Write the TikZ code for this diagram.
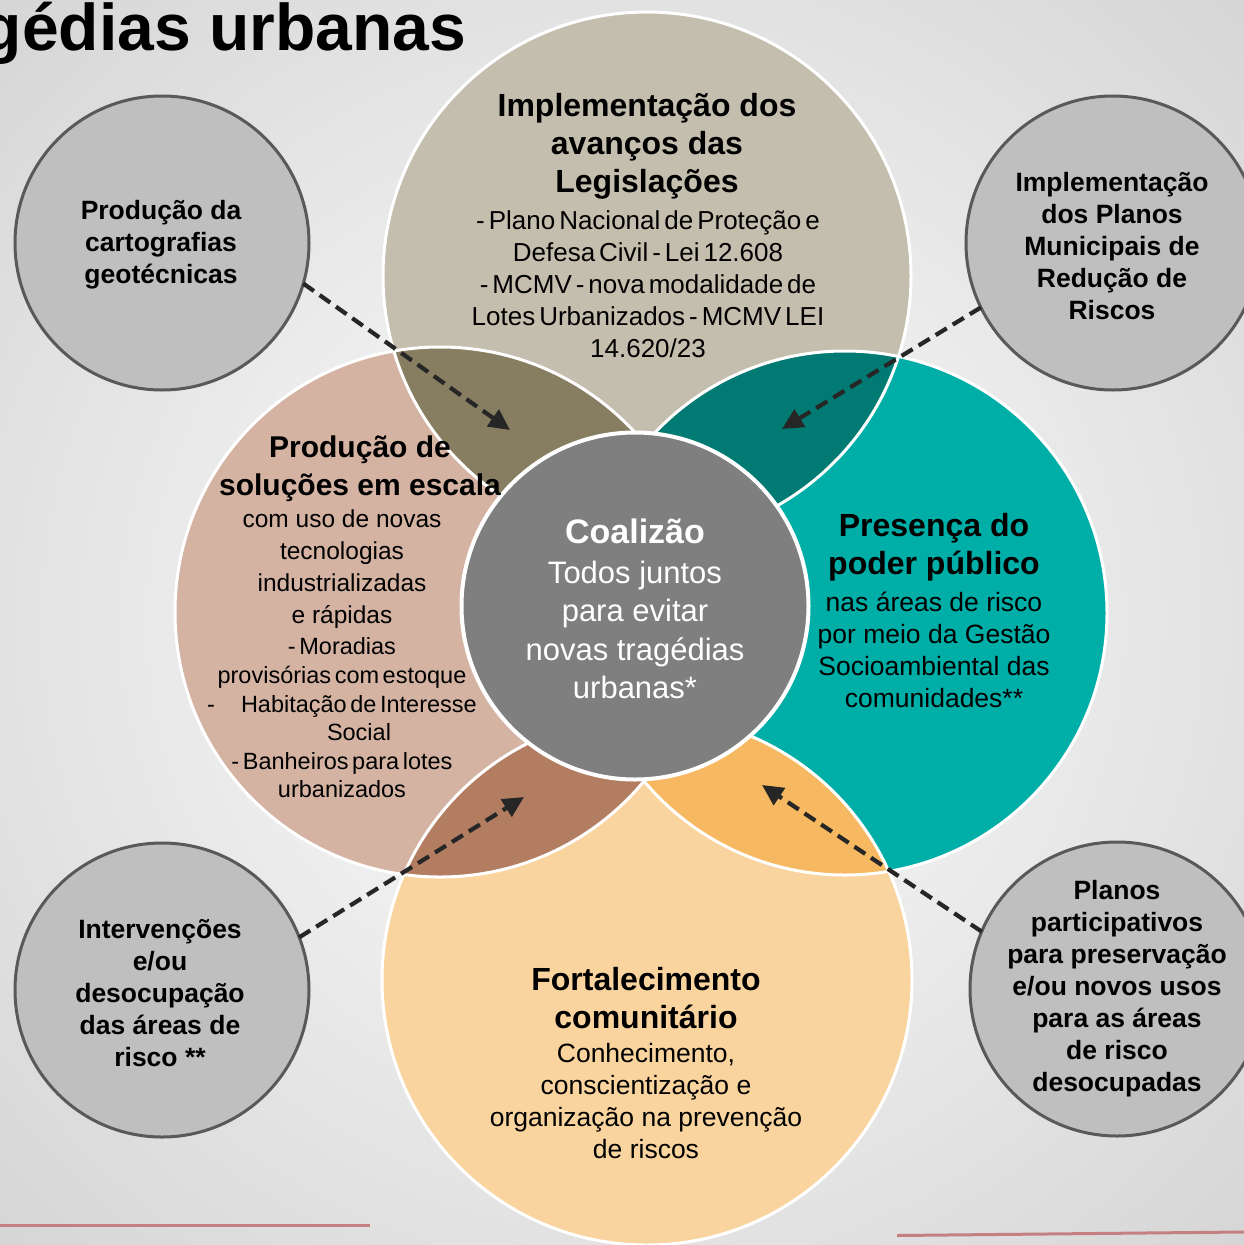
\documentclass[tikz,border=0pt]{standalone}
\usepackage{fontspec}
\setmainfont{Liberation Sans}
\newfontfamily\condf{Liberation Sans}[WordSpace=0.55]
\usetikzlibrary{arrows.meta}
\definecolor{bgC}{RGB}{214,214,214}
\definecolor{cTop}{RGB}{196,190,174}
\definecolor{cLeft}{RGB}{212,179,163}
\definecolor{cRight}{RGB}{0,174,168}
\definecolor{cBot}{RGB}{250,212,158}
\definecolor{cTL}{RGB}{135,125,97}
\definecolor{cTR}{RGB}{0,122,115}
\definecolor{cBL}{RGB}{179,125,97}
\definecolor{cBR}{RGB}{246,185,97}
\definecolor{cCenter}{RGB}{127,127,127}
\definecolor{satFill}{RGB}{191,191,191}
\definecolor{satLine}{RGB}{89,89,89}
\definecolor{arrowC}{RGB}{38,38,38}
\definecolor{redL}{RGB}{196,128,128}
\begin{document}
\begin{tikzpicture}[x=1pt,y=-1pt,
  every node/.style={inner sep=0pt, outer sep=0pt},
  bigttl/.style={align=center, font=\bfseries\fontsize{32}{38}\selectfont},
  bodytxt/.style={align=center, font=\fontsize{26.5}{32}\selectfont},
  smallttl/.style={align=center, font=\bfseries\fontsize{26.5}{32}\selectfont},
  satellite/.style={circle, fill=satFill, draw=satLine, line width=3pt, minimum size=294pt},
  link/.style={draw=arrowC, line width=4.2pt, dash pattern=on 13pt off 7pt, -{Triangle[length=21pt,width=20pt]}},
  ringline/.style={draw=white, line width=3pt},
  redline/.style={draw=redL, line width=3pt},
]
\useasboundingbox (0,0) rectangle (1244,1245);
\shade[inner color=white, outer color=bgC] (-250,-250) rectangle (1494,1495);

% big circles
\fill[cTop] (647,276) circle[radius=264pt];
\fill[cLeft] (440,612) circle[radius=265pt];
\fill[cRight] (845,613) circle[radius=262pt];
\fill[cBot] (647,980) circle[radius=265pt];
\begin{scope}
  \clip (647,276) circle[radius=264pt];
  \fill[cTL] (440,612) circle[radius=265pt];
  \fill[cTR] (845,613) circle[radius=262pt];
\end{scope}
\begin{scope}
  \clip (647,980) circle[radius=265pt];
  \fill[cBL] (440,612) circle[radius=265pt];
  \fill[cBR] (845,613) circle[radius=262pt];
\end{scope}
\draw[ringline] (647,276) circle[radius=264pt];
\draw[ringline] (440,612) circle[radius=265pt];
\draw[ringline] (845,613) circle[radius=262pt];
\draw[ringline] (647,980) circle[radius=265pt];

% centre
\node[circle, fill=cCenter, draw=white, line width=4pt, minimum size=347pt] (coal) at (635,606) {};

% satellites
\node[satellite] (sTL) at (162,243) {};
\node[satellite] (sTR) at (1113,243) {};
\node[satellite] (sBL) at (162,990) {};
\node[satellite] (sBR) at (1117,989) {};

% title and decorative lines
\node[anchor=base east, font=\bfseries\fontsize{66}{72}\selectfont] (title) at (466,50) {gédias urbanas};
\draw[redline] (0,1225.5) -- (370,1225.5);
\draw[redline] (897,1235.5) -- (1244,1232);

% texts
\node[bigttl] (topT) at (647,146) {Implementação dos\\avanços das\\Legislações};
\node[align=center, font=\condf\fontsize{26}{32}\selectfont] (topB) at (648,284) {- Plano Nacional de Proteção e\\Defesa Civil - Lei 12.608\\- MCMV - nova modalidade de\\Lotes Urbanizados - MCMV LEI\\14.620/23};

\node[align=center, font=\bfseries\fontsize{30}{38}\selectfont] (leftT) at (360,469) {Produção de\\soluções em escala};
\node[align=center, font=\fontsize{24.5}{32}\selectfont] (leftB1) at (342,569) {com uso de novas\\tecnologias\\industrializadas\\e rápidas};
\node[align=center, font=\condf\fontsize{23.5}{28.6}\selectfont] (leftB2) at (342,718) {- Moradias\\provisórias com estoque\\-\hspace*{26pt}Habitação de Interesse\\\hspace*{34pt}Social\\- Banheiros para lotes\\urbanizados};

\node[bigttl] (rightT) at (934,547) {Presença do\\poder público};
\node[bodytxt] (rightB) at (934,650) {nas áreas de risco\\por meio da Gestão\\Socioambiental das\\comunidades**};

\node[bigttl] (botT) at (646,998) {Fortalecimento\\comunitário};
\node[bodytxt] (botB) at (646,1101) {Conhecimento,\\conscientização e\\organização na prevenção\\de riscos};

\node[text=white, font=\bfseries\fontsize{34}{40}\selectfont] (coalT) at (635,531) {Coalizão};
\node[text=white, align=center, font=\fontsize{31}{38.3}\selectfont] (coalB) at (635,630) {Todos juntos\\para evitar\\novas tragédias\\urbanas*};

\node[smallttl] (tlT) at (161,245) {Produção da\\cartografias\\geotécnicas};
\node[smallttl] (trT) at (1112,246) {Implementação\\dos Planos\\Municipais de\\Redução de\\Riscos};
\node[smallttl] (blT) at (160,993) {Intervenções\\e/ou\\desocupação\\das áreas de\\risco **};
\node[smallttl] (brT) at (1117,989) {Planos\\participativos\\para preservação\\e/ou novos usos\\para as áreas\\de risco\\desocupadas};

% connectors
\coordinate (tlEnd) at (510,430);
\coordinate (trEnd) at (782,429);
\coordinate (blEnd) at (524,797);
\coordinate (brEnd) at (762,785);
\draw[link] (sTL.-16) -- (tlEnd);
\draw[link] (sTR.-154) -- (trEnd);
\draw[link] (sBL.21) -- (blEnd);
\draw[link] (sBR.157) -- (brEnd);
\end{tikzpicture}
\end{document}
